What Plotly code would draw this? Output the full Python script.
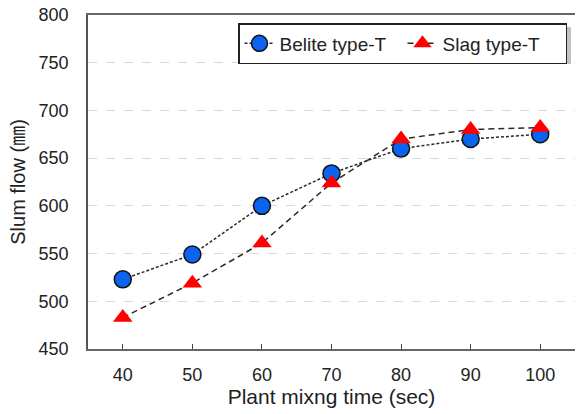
import plotly.graph_objects as go

time_sec = [40, 50, 60, 70, 80, 90, 100]
belite = [523, 549, 600, 634, 660, 670, 675]
slag = [483, 519, 561, 624, 670, 680, 682]
y_ticks = [450, 500, 550, 600, 650, 700, 750, 800]

fig = go.Figure()
fig.add_trace(go.Scatter(
    x=time_sec, y=belite, name="Belite type-T", mode="lines+markers",
    line=dict(color="#2a2a2a", width=1.5, dash="3px,2px"),
    marker=dict(symbol="circle", size=17, color="#0a64f0", line=dict(color="#111111", width=1.5)),
))
fig.add_trace(go.Scatter(
    x=time_sec, y=slag, name="Slag type-T", mode="lines+markers",
    line=dict(color="#2a2a2a", width=1.5, dash="6px,4px"),
    marker=dict(symbol="triangle-up", size=17, color="#ff0000", line=dict(width=0)),
))

W, H = 577, 414
PL, PR, PT, PB = 88, 575, 15, 349  # plot area in page pixels
L, R, T, B = PL, W - PR, PT, H - PB
pw, ph = PR - PL, PB - PT

def px_x(p):
    return (p - PL) / pw

def px_y(p):
    return (PB - p) / ph

# legend drop shadow
fig.add_shape(type="rect", xref="paper", yref="paper",
              x0=px_x(243), x1=px_x(571), y0=px_y(64), y1=px_y(27),
              fillcolor="#9a9a9a", line=dict(width=0), layer="above", opacity=0.6)

fig.update_layout(
    width=W, height=H,
    margin=dict(l=L, r=R, t=T, b=B, autoexpand=False),
    paper_bgcolor="white", plot_bgcolor="white",
    font=dict(family="Liberation Sans, Arial", color="#222222"),
    showlegend=True,
    legend=dict(
        orientation="h", x=px_x(567), xanchor="right", y=px_y(23), yanchor="top",
        bordercolor="#222222", borderwidth=1.5, bgcolor="white",
        font=dict(size=19), entrywidth=118, entrywidthmode="pixels",
    ),
    xaxis=dict(
        range=[35, 105], tickvals=time_sec, ticks="inside", ticklen=5,
        tickcolor="#444444", showline=True, linecolor="#666666", linewidth=1.5,
        mirror=True, showgrid=False, zeroline=False, automargin=False,
        tickfont=dict(size=18), ticklabelstandoff=9,
        title=dict(text="Plant mixng time (sec)", font=dict(size=21), standoff=4),
    ),
    yaxis=dict(
        range=[450, 800], tickvals=y_ticks, ticks="",
        showline=True, linecolor="#555555", linewidth=1.5,
        showgrid=True, gridcolor="#d9d9d9", griddash="dash", gridwidth=1,
        zeroline=False, tickfont=dict(size=18), ticklabelstandoff=14, automargin=False,
        title=dict(text="Slum flow (㎜)", font=dict(size=20, family="Liberation Sans, Noto Sans CJK KR"), standoff=8),
    ),
)
fig.write_html("out.html", config={"displayModeBar": False},
               post_script="document.body.style.margin='0';")
